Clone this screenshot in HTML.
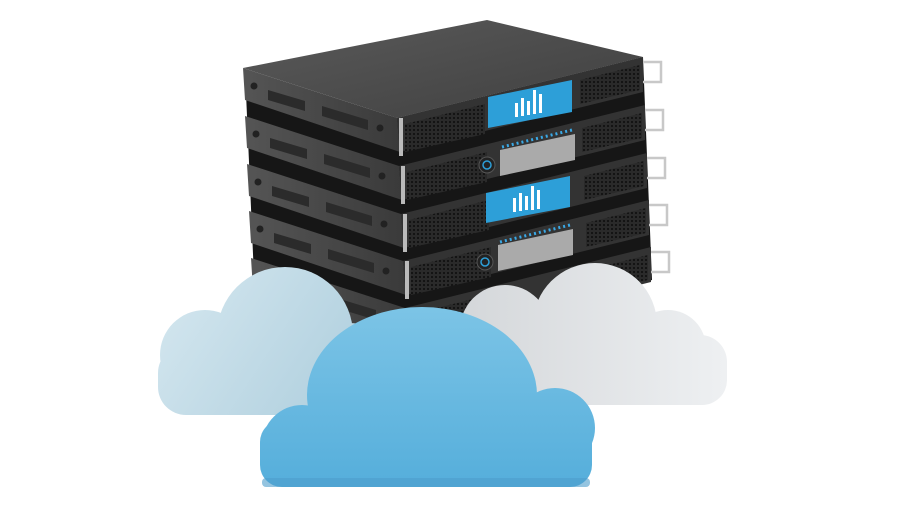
<!DOCTYPE html>
<html><head><meta charset="utf-8"><style>html,body{margin:0;padding:0;background:#fff}svg{display:block}</style></head>
<body>
<svg width="900" height="520" viewBox="0 0 900 520" xmlns="http://www.w3.org/2000/svg">
<defs>
<pattern id="mesh" width="4" height="4" patternUnits="userSpaceOnUse"><rect width="4" height="4" fill="#2a2a2a"/><circle cx="2" cy="2" r="1.1" fill="#111"/></pattern>
<linearGradient id="top" x1="0" y1="0" x2="1" y2="1"><stop offset="0" stop-color="#5a5a5a"/><stop offset="1" stop-color="#3f3f3f"/></linearGradient>
<linearGradient id="lf" x1="0" y1="0" x2="1" y2="0"><stop offset="0" stop-color="#555"/><stop offset="1" stop-color="#3a3a3a"/></linearGradient>
<linearGradient id="cblue" gradientUnits="userSpaceOnUse" x1="0" y1="307" x2="0" y2="487"><stop offset="0" stop-color="#7cc4e6"/><stop offset="1" stop-color="#55aedb"/></linearGradient>
<linearGradient id="cleft" gradientUnits="userSpaceOnUse" x1="160" y1="265" x2="390" y2="415"><stop offset="0" stop-color="#d6e8f0"/><stop offset="1" stop-color="#a9cbdb"/></linearGradient>
<linearGradient id="cright" gradientUnits="userSpaceOnUse" x1="450" y1="0" x2="727" y2="0"><stop offset="0" stop-color="#d3d6d9"/><stop offset="1" stop-color="#eef0f2"/></linearGradient>
<g id="srv">
  <polygon points="243,68 397,118 400,152 245,100" fill="url(#lf)"/>
  <polygon points="397,118 643,57 643,92 400,152" fill="#333"/>
  <polygon points="405,124 485,104 485,134 405,152" fill="url(#mesh)"/>
  <polygon points="580,80 640,65 640,90 580,104" fill="url(#mesh)"/>
  <polygon points="268,90 305,101 305,111 268,100" fill="#2b2b2b"/>
  <polygon points="322,106 368,120 368,130 322,116" fill="#2b2b2b"/>
  <circle cx="254" cy="86" r="3.5" fill="#222"/>
  <circle cx="380" cy="128" r="3.5" fill="#222"/>
  <rect x="399" y="118" width="4" height="38" fill="#bbb"/>
  <path d="M643,62 h18 v20 h-18" fill="none" stroke="#c8c8c8" stroke-width="2.5"/>
</g>
</defs>
<rect width="900" height="520" fill="#fff"/>
<polygon points="245,70 397,118 643,57 652,280 402,345 255,300" fill="#161616"/>
<g transform="translate(8,190)"><use href="#srv"/></g>
<g transform="translate(6,143)"><use href="#srv"/></g>
<g transform="translate(4,96)"><use href="#srv"/></g>
<g transform="translate(2,48)"><use href="#srv"/></g>
<use href="#srv"/>
<polygon points="243,68 487,20 643,57 397,118" fill="url(#top)"/>
<polygon points="488,97 572,80 572,112 488,128" fill="#2d9fd8"/>
<g fill="#fff"><rect x="515" y="103" width="3" height="14"/><rect x="521" y="98" width="3" height="18"/><rect x="527" y="101" width="3" height="14"/><rect x="533" y="90" width="3" height="24"/><rect x="539" y="94" width="3" height="19"/></g>
<polygon points="486,193 570,176 570,207 486,223" fill="#2d9fd8"/>
<g fill="#fff"><rect x="513" y="198" width="3" height="14"/><rect x="519" y="193" width="3" height="18"/><rect x="525" y="196" width="3" height="14"/><rect x="531" y="186" width="3" height="24"/><rect x="537" y="190" width="3" height="19"/></g>
<polygon points="500,150 575,134 575,160 500,176" fill="#aaa"/>
<polygon points="498,245 573,229 573,255 498,271" fill="#aaa"/>
<circle cx="487" cy="165" r="8" fill="#222" stroke="#555"/><circle cx="487" cy="165" r="4" fill="none" stroke="#2d9fd8" stroke-width="1.5"/>
<circle cx="485" cy="262" r="8" fill="#222" stroke="#555"/><circle cx="485" cy="262" r="4" fill="none" stroke="#2d9fd8" stroke-width="1.5"/>
<line x1="502" y1="147" x2="572" y2="130" stroke="#3aa9e6" stroke-width="3" stroke-dasharray="2 3"/>
<line x1="500" y1="242" x2="570" y2="225" stroke="#3aa9e6" stroke-width="3" stroke-dasharray="2 3"/>
<g fill="url(#cleft)">
<circle cx="205" cy="355" r="45"/><circle cx="285" cy="335" r="68"/><circle cx="350" cy="365" r="42"/>
<rect x="158" y="345" width="235" height="70" rx="28"/>
</g>
<g fill="url(#cright)">
<circle cx="505" cy="330" r="45"/><circle cx="595" cy="325" r="62"/><circle cx="668" cy="348" r="38"/><circle cx="700" cy="362" r="27"/>
<rect x="452" y="340" width="275" height="65" rx="25"/>
</g>
<g fill="url(#cblue)">
<circle cx="302" cy="445" r="40"/><ellipse cx="422" cy="395" rx="115" ry="88"/><circle cx="555" cy="428" r="40"/>
<rect x="260" y="420" width="332" height="67" rx="22"/>
</g>
<rect x="262" y="478" width="328" height="9" rx="4" fill="#4c9dcc" opacity="0.6"/>
</svg>
</body></html>
